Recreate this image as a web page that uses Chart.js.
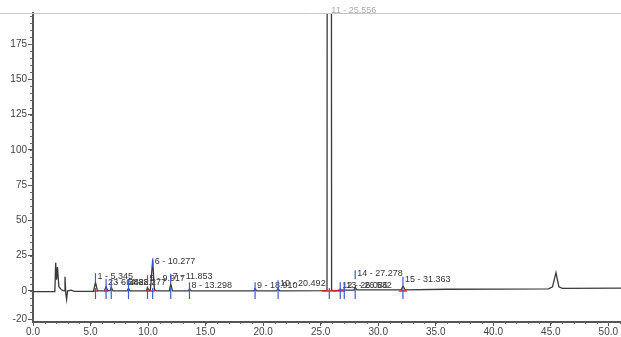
<!DOCTYPE html>
<html>
<head>
<meta charset="utf-8">
<script src="https://cdn.jsdelivr.net/npm/chart.js@4/dist/chart.umd.min.js"></script>
<style>
  html, body { margin: 0; padding: 0; background: #fff; }
  #wrap { width: 621px; height: 337px; }
</style>
</head>
<body>
<div id="wrap"><canvas id="grafico" width="621" height="337"></canvas></div>
<script>
// señal del cromatograma (min, mAU)
const traceTimes = [0, 1.9, 1.97, 2.05, 2.13, 2.25, 2.45, 2.7, 2.78, 2.85, 2.92, 3.0, 3.3, 3.6,
  5.25, 5.43, 5.6, 6.2, 6.35, 6.5, 6.7, 6.8, 6.95, 8.18, 8.3, 8.42, 9.85, 9.95, 10.1, 10.2,
  10.4, 10.55, 10.75, 11.85, 11.97, 12.12, 13.5, 13.6, 13.75, 19.2, 19.3, 19.45, 21.15, 21.3,
  21.45, 25.55, 25.75, 25.95, 26.2, 26.7, 27.05, 27.9, 28.0, 28.15, 32.0, 32.15, 32.35, 36, 44.8,
  45.15, 45.45, 45.7, 46.0, 51.1];
const traceSignal = [-0.5, -0.5, 20, 8, 17, 3, 1, 0, 10, -2, -6, 0, 0.5, -0.3,
  -0.3, 6, 0, 0, 3, 0.2, 0.2, 2.5, 0, 0, 2, 0, 0, 2.5, 0.5, 0.5,
  22, 1, 0, 0, 5, 0, 0, 1.5, 0, 0, 1.5, 0, 0, 1.5,
  0, 0.3, 3000, 0.5, 0, 0.8, 0.6, 0.6, 2.5, 0.8, 0.8, 3.5, 0.8, 1.2, 1.5,
  3, 13, 3, 1.8, 2];

// picos integrados: posicion en el dibujo y texto de la etiqueta
const peakPos = [5.43, 6.35, 6.8, 8.3, 9.95, 10.4, 11.97, 13.6, 19.3, 21.3,
  25.75, 26.7, 27.05, 28.0, 32.15];
const peakLabels = ['1 - 5.345', '2 - 6.348', '3 - 6.822', '4 - 8.277', '5 - 9.917', '6 - 10.277',
  '7 - 11.853', '8 - 13.298', '9 - 18.910', '10 - 20.492', '11 - 25.556', '12 - 26.086',
  '13 - 26.532', '14 - 27.278', '15 - 31.363'];
const peakLevels = [10.5, 6.3, 6, 6, 9, 21, 10, 4, 4, 5.5, 199, 4, 4, 12.5, 8];

// lineas base rojas
const baseFrom = [5.3, 6.2, 9.85, 25.1, 31.8];
const baseTo = [5.6, 6.55, 10.6, 27.1, 32.5];

const xTicks = [0, 5, 10, 15, 20, 25, 30, 35, 40, 45, 50];
const yTicks = [-20, 0, 25, 50, 75, 100, 125, 150, 175];

const fuenteEje = { family: 'Liberation Sans, Arial, sans-serif', size: 10 };

const extras = {
  id: 'extras',
  afterDatasetsDraw(chart) {
    const ctx = chart.ctx, x = chart.scales.x, y = chart.scales.y, ca = chart.chartArea;
    ctx.save();
    // marco superior
    ctx.strokeStyle = '#c8c8c8'; ctx.lineWidth = 1;
    ctx.beginPath(); ctx.moveTo(0, ca.top + 0.5); ctx.lineTo(chart.width, ca.top + 0.5); ctx.stroke();
    // ticks menores
    ctx.strokeStyle = '#666'; ctx.lineWidth = 1;
    for (let v = -20; v <= 195; v += 5) {
      const py = Math.round(y.getPixelForValue(v)) + 0.5;
      ctx.beginPath(); ctx.moveTo(ca.left - 3, py); ctx.lineTo(ca.left, py); ctx.stroke();
    }
    for (let t = 0; t <= 51; t += 1) {
      const px = Math.round(x.getPixelForValue(t)) + 0.5;
      ctx.beginPath(); ctx.moveTo(px, ca.bottom); ctx.lineTo(px, ca.bottom + 2); ctx.stroke();
    }
    // lineas base rojas
    ctx.strokeStyle = '#e8211c'; ctx.lineWidth = 1.5;
    baseFrom.forEach((a, i) => {
      const py = y.getPixelForValue(0);
      ctx.beginPath(); ctx.moveTo(x.getPixelForValue(a), py); ctx.lineTo(x.getPixelForValue(baseTo[i]), py); ctx.stroke();
    });
    // marcas azules y etiquetas
    ctx.font = '9px Liberation Sans, Arial, sans-serif';
    ctx.textBaseline = 'middle';
    peakPos.forEach((t, i) => {
      const px = x.getPixelForValue(t);
      const p0 = y.getPixelForValue(0);
      const pl = Math.max(y.getPixelForValue(peakLevels[i]), 9);
      ctx.strokeStyle = '#3b5bd6'; ctx.lineWidth = 1.2;
      ctx.beginPath(); ctx.moveTo(px, p0 - 3); ctx.lineTo(px, p0 + 8); ctx.stroke();
      if (peakLevels[i] < 190) {
        ctx.beginPath(); ctx.moveTo(px, pl - 3); ctx.lineTo(px, pl + 6); ctx.stroke();
      }
      ctx.fillStyle = peakLevels[i] < 190 ? '#333' : '#aaa';
      ctx.fillText(peakLabels[i], px + 2, pl);
    });
    ctx.restore();
  }
};

new Chart(document.getElementById('grafico'), {
  type: 'line',
  data: {
    datasets: [{
      data: traceTimes.map((t, i) => ({ x: t, y: traceSignal[i] })),
      borderColor: '#3a3a3a', borderWidth: 1.3, pointRadius: 0, tension: 0, fill: false
    }]
  },
  options: {
    responsive: false, animation: false,
    layout: { padding: { top: 13, right: 0, left: 0, bottom: 0 } },
    plugins: { legend: { display: false }, tooltip: { enabled: false } },
    scales: {
      x: {
        type: 'linear', min: 0, max: 51.1,
        afterBuildTicks: s => { s.ticks = xTicks.map(v => ({ value: v })); },
        afterFit: s => { s.height = 15; },
        ticks: { callback: v => v.toFixed(1), font: fuenteEje, color: '#444', maxRotation: 0, autoSkip: false, padding: 0 },
        grid: { drawOnChartArea: false, tickLength: 4, color: '#555' },
        border: { color: '#555', width: 2 }
      },
      y: {
        min: -22, max: 197,
        afterBuildTicks: s => { s.ticks = yTicks.map(v => ({ value: v })); },
        afterFit: s => { s.width = 33; },
        ticks: { callback: v => String(v), font: fuenteEje, color: '#444', padding: 1 },
        grid: { drawOnChartArea: false, tickLength: 5, color: '#555' },
        border: { color: '#555', width: 2 }
      }
    }
  },
  plugins: [extras]
});
</script>
</body>
</html>
